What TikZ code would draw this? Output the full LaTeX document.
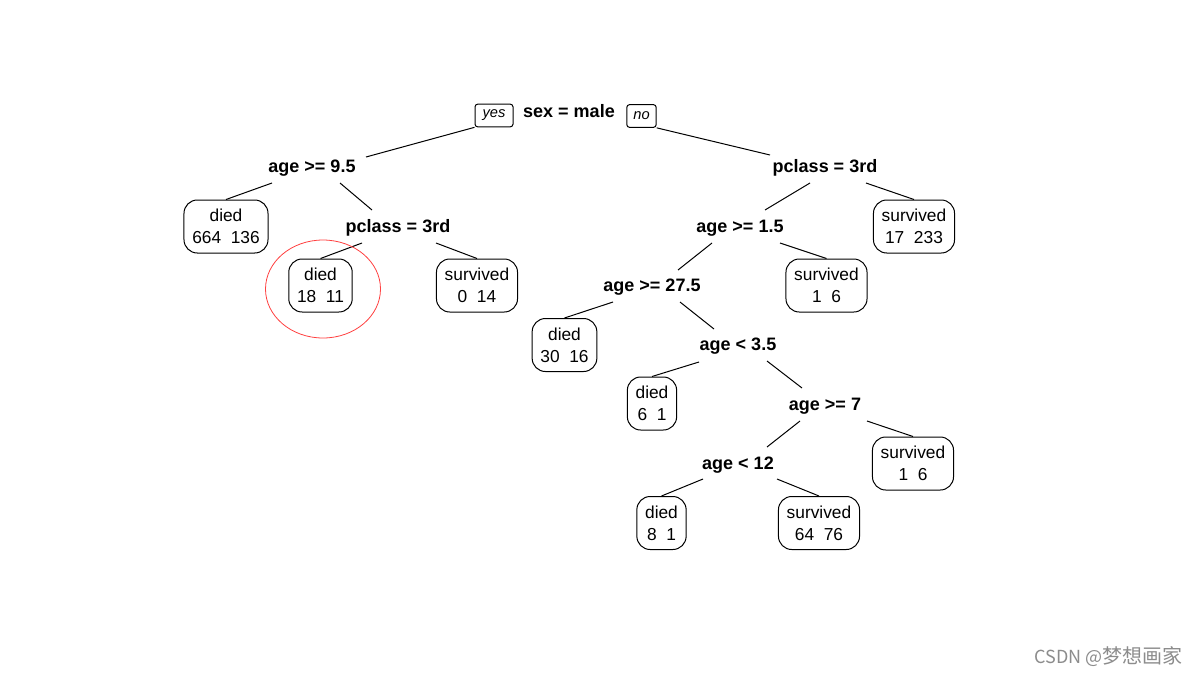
\documentclass[tikz,border=0pt]{standalone}
\usepackage{fontspec}
\setmainfont{Liberation Sans}
\newfontfamily\cjk{Noto Sans CJK SC}
\usetikzlibrary{calc}
\begin{document}
\begin{tikzpicture}[x=0.75pt,y=-0.75pt,
  splitlbl/.style={font=\fontsize{13.5}{15}\selectfont\bfseries, inner sep=0pt},
  leafbox/.style={draw, line width=0.75pt, rounded corners=10pt, align=center,
    font=\fontsize{13}{16.5}\selectfont, inner xsep=6.2pt, minimum height=39.75pt},
  yesno/.style={draw, line width=0.75pt, rounded corners=2pt,
    font=\fontsize{11}{13}\selectfont\itshape, inner sep=0pt, minimum height=17pt},
  edge/.style={line width=0.75pt},
  mark circle/.style={draw=red!75, line width=0.6pt},
  watermark/.style={font=\cjk\fontsize{13.5}{16}\selectfont, text=black!45, inner sep=0pt}]
\fill[white] (0,0) rectangle (1200,676);
\useasboundingbox (0,0) rectangle (1200,676);

% root
\node[splitlbl] (n1) at (569,111) {sex = male};
\node[yesno, minimum width=28.5pt] (yes) at (494,115.5) {yes};
\node[yesno, minimum width=22pt] (no) at (641.5,116) {no};

% splits
\node[splitlbl] (n2) at (312,168) {age >= 9.5};
\node[splitlbl] (n3) at (825,168) {pclass = 3rd};
\node[splitlbl] (n5) at (398,228) {pclass = 3rd};
\node[splitlbl] (n6) at (740,228) {age >= 1.5};
\node[splitlbl] (n12) at (652,287) {age >= 27.5};
\node[splitlbl] (n25) at (738,346) {age < 3.5};
\node[splitlbl] (n51) at (825,406) {age >= 7};
\node[splitlbl] (n102) at (738,465) {age < 12};

% leaves
\node[leafbox] (l4) at (226,226.5) {died\\664~~136};
\node[leafbox] (l10) at (320.5,285.5) {died\\18~~11};
\node[leafbox] (l11) at (477,285.5) {survived\\0~~14};
\node[leafbox] (l7) at (914,226.5) {survived\\17~~233};
\node[leafbox] (l13) at (826.5,285.5) {survived\\1~~6};
\node[leafbox] (l24) at (564.5,345) {died\\30~~16};
\node[leafbox] (l50) at (652,403.5) {died\\6~~1};
\node[leafbox] (l103) at (913,463.5) {survived\\1~~6};
\node[leafbox] (l204) at (661.5,523) {died\\8~~1};
\node[leafbox] (l205) at (819,523) {survived\\64~~76};

% connectors
\draw[edge] (yes.south west) -- ($(n2)+(54,-11)$);
\draw[edge] (no.south east) -- ($(n3)+(-55,-13)$);
\draw[edge] ($(n2)+(-40,15)$) -- (l4.north);
\draw[edge] ($(n2)+(28,15)$) -- ($(n5)+(-26,-18)$);
\draw[edge] ($(n5)+(-36,15)$) -- (l10.north);
\draw[edge] ($(n5)+(38,15)$) -- (l11.north);
\draw[edge] ($(n3)+(-15,15)$) -- ($(n6)+(25,-18)$);
\draw[edge] ($(n3)+(41,15)$) -- (l7.north);
\draw[edge] ($(n6)+(-28,15)$) -- ($(n12)+(26,-17)$);
\draw[edge] ($(n6)+(40,15)$) -- (l13.north);
\draw[edge] ($(n12)+(-39,15)$) -- (l24.north);
\draw[edge] ($(n12)+(28,15)$) -- ($(n25)+(-24,-17)$);
\draw[edge] ($(n25)+(-39,16)$) -- (l50.north);
\draw[edge] ($(n25)+(29,15)$) -- ($(n51)+(-23,-18)$);
\draw[edge] ($(n51)+(-25,15)$) -- ($(n102)+(29,-18)$);
\draw[edge] ($(n51)+(42,15)$) -- (l103.north);
\draw[edge] ($(n102)+(-35,14)$) -- (l204.north);
\draw[edge] ($(n102)+(39,14)$) -- (l205.north);

% highlight
\draw[mark circle] (l10.center) ++(2.5,3.5) ellipse [x radius=57.5, y radius=49];

% watermark
\node[watermark, anchor=west] (wm) at (1034,657) {CSDN @{\fontsize{15}{16}\selectfont 梦想画家}};
\end{tikzpicture}
\end{document}
